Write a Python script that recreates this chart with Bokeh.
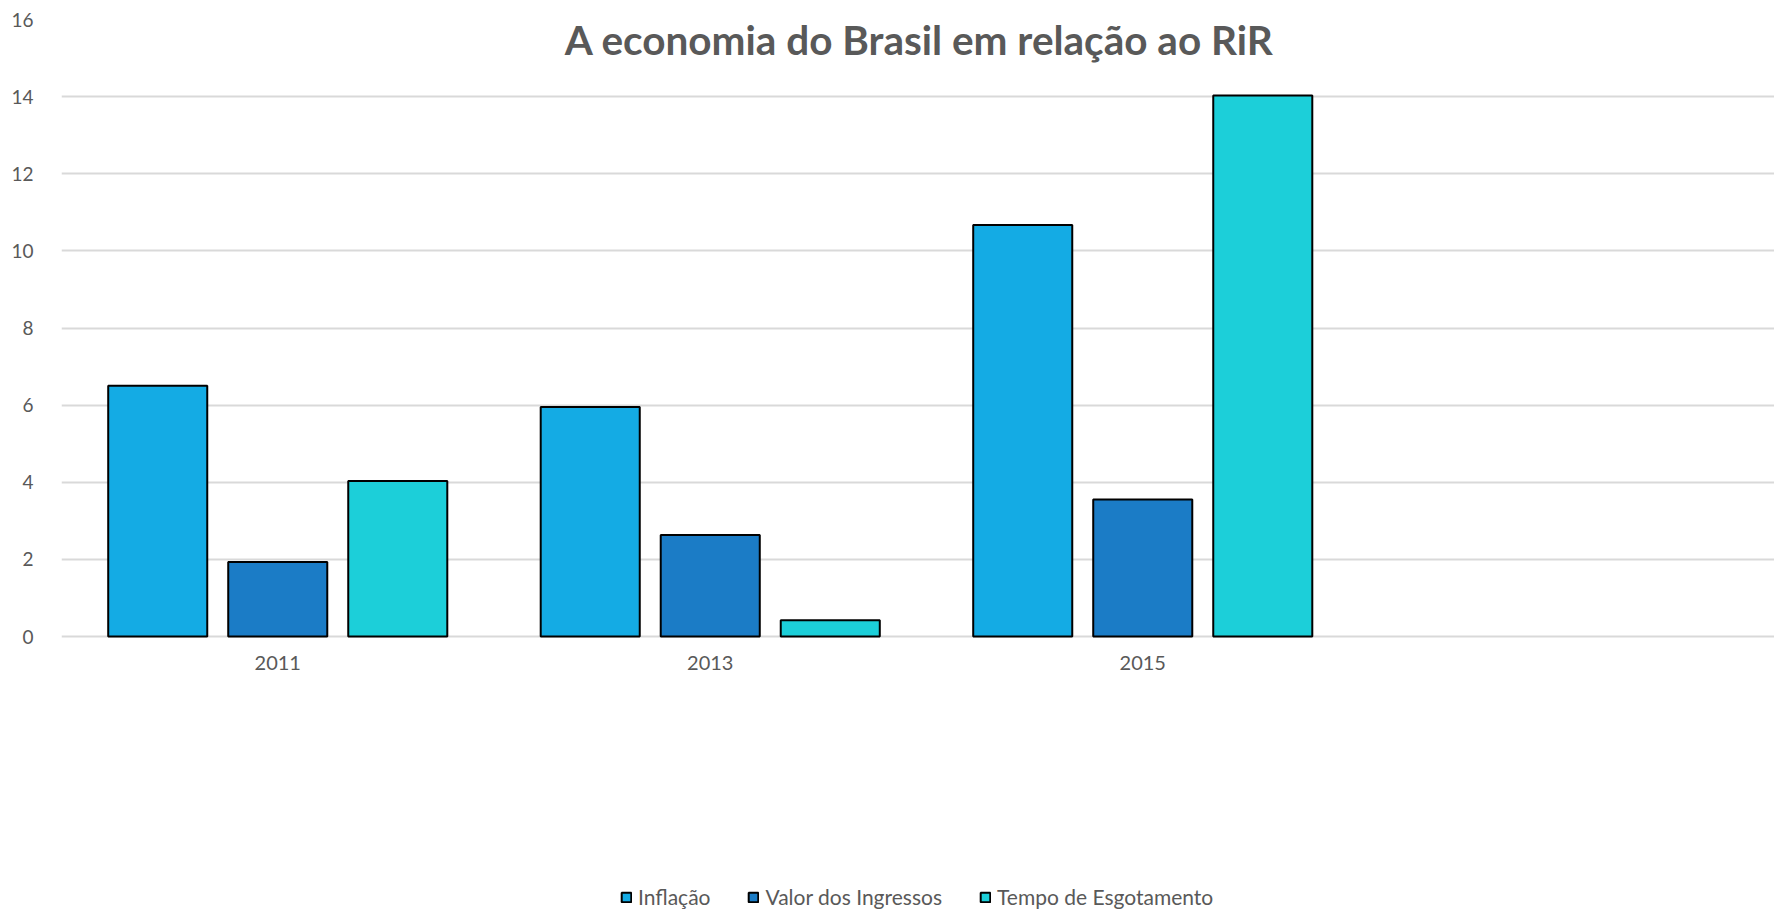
from bokeh.plotting import figure
from bokeh.models import (ColumnDataSource, Legend, LegendItem, Label, FixedTicker,
                          Range1d, LinearAxis)
from bokeh.embed import file_html
from bokeh.resources import INLINE

years = ["2011", "2013", "2015"]
series_names = ["Inflação", "Valor dos Ingressos", "Tempo de Esgotamento"]
inflacao = [6.5, 5.95, 10.67]
valor_ingressos = [1.93, 2.63, 3.55]
tempo_esgotamento = [4.03, 0.42, 14.03]
y_ticks = [0, 2, 4, 6, 8, 10, 12, 14, 16]
title_text = "A economia do Brasil em relação ao RiR"

colors = ["#14abe4", "#1b7cc6", "#1ccfd9"]
offsets = [-0.2775, 0.0, 0.2775]
bar_w = 0.229
FONT = "Lato"
TXT = "#595959"

W, H = 1774, 915
TOP_PAD = 19
PX_PER_UNIT = (636 - 19) / 16.0
frame_h = H - TOP_PAD
y_min = 16 - frame_h / PX_PER_UNIT

p = figure(width=W, height=H, output_backend="svg", toolbar_location=None,
           x_range=Range1d(-0.5, -0.5 + 1713 / 432.5), y_range=Range1d(y_min, 16),
           x_axis_location=None,
           min_border_left=61, min_border_top=TOP_PAD, min_border_right=0,
           min_border_bottom=0)
p.outline_line_color = None
p.background_fill_color = "white"
p.border_fill_color = "white"

x_idx = list(range(len(years)))
renderers = []
for vals, c, off, name in zip([inflacao, valor_ingressos, tempo_esgotamento], colors, offsets, series_names):
    src = ColumnDataSource(dict(x=[i + off for i in x_idx], top=vals))
    r = p.vbar(x="x", top="top", bottom=0, width=bar_w, source=src,
               fill_color=c, line_color="black", line_width=2)
    renderers.append(r)

# x axis drawn at y = 0
xaxis = LinearAxis(fixed_location=0, ticker=FixedTicker(ticks=x_idx),
                   major_label_overrides={i: y for i, y in enumerate(years)})
p.add_layout(xaxis, "below")

p.yaxis.ticker = FixedTicker(ticks=y_ticks)
for ax in (xaxis, p.yaxis[0]):
    ax.axis_line_color = None
    ax.major_tick_line_color = None
    ax.minor_tick_line_color = None
    ax.major_label_text_font = FONT
    ax.major_label_text_color = TXT
xaxis.major_label_text_font_size = "20px"
xaxis.major_label_standoff = 13
p.yaxis.major_label_text_font_size = "19px"
p.yaxis.major_label_standoff = 22
p.xgrid.grid_line_color = None
p.ygrid.ticker = FixedTicker(ticks=y_ticks)
p.ygrid.grid_line_color = "#d9d9d9"
p.ygrid.grid_line_width = 2

# title inside the plot area
title = Label(x=858, y=frame_h - 20, x_units="screen", y_units="screen", text=title_text,
              text_font=FONT, text_font_style="bold", text_font_size="40.5px",
              text_color=TXT, text_align="center", text_baseline="middle")
p.add_layout(title)

legend = Legend(items=[LegendItem(label=n, renderers=[r]) for n, r in zip(series_names, renderers)],
                orientation="horizontal", location=(559, 6),
                glyph_width=12, glyph_height=12, label_standoff=6, spacing=37,
                padding=0, margin=0, border_line_color=None, background_fill_alpha=0,
                label_text_font=FONT, label_text_color=TXT, label_text_font_size="21px",
                label_height=18)
p.add_layout(legend, "center")

open("out.html", "w").write(file_html(p, INLINE))
